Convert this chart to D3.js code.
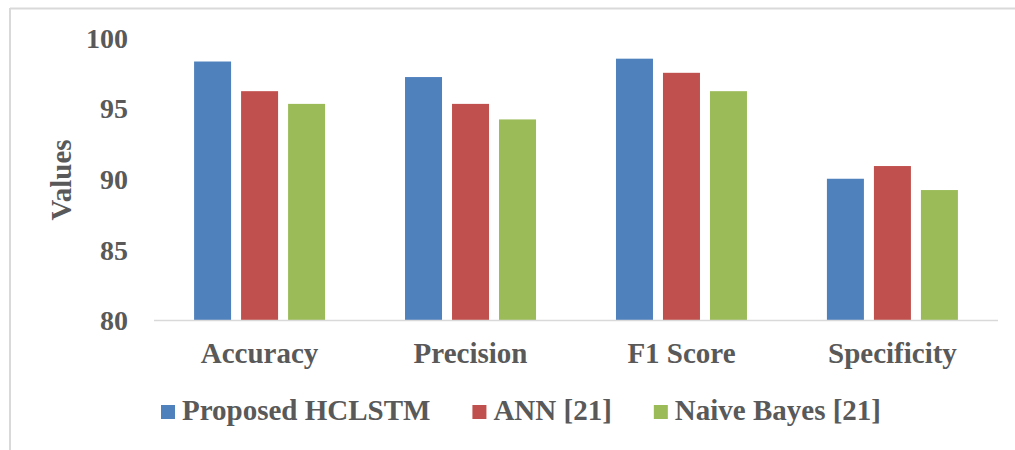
<!DOCTYPE html>
<html>
<head>
<meta charset="utf-8">
<script src="https://cdn.jsdelivr.net/npm/d3@7"></script>
<style>
  html, body { margin: 0; padding: 0; background: #fff; }
  svg { display: block; }
  text { font-family: "Liberation Serif", "Times New Roman", serif; font-weight: bold; fill: #595959; }
</style>
</head>
<body>
<svg id="chart" width="1015" height="450"></svg>
<script>
const categories = ["Accuracy", "Precision", "F1 Score", "Specificity"];
const seriesNames = ["Proposed HCLSTM", "ANN [21]", "Naive Bayes [21]"];
const hclstm = [98.3, 97.2, 98.5, 90.0];
const ann = [96.2, 95.3, 97.5, 90.9];
const naiveBayes = [95.3, 94.2, 96.2, 89.2];
const yTicks = [80, 85, 90, 95, 100];
const colors = ["#4f81bd", "#c0504d", "#9bbb59"];

const seriesValues = [hclstm, ann, naiveBayes];
const svg = d3.select("#chart");

// outer frame (top and left edges visible)
svg.append("line").attr("x1", 10).attr("x2", 1015).attr("y1", 8.5).attr("y2", 8.5)
  .attr("stroke", "#d9d9d9").attr("stroke-width", 2);
svg.append("line").attr("x1", 10).attr("x2", 10).attr("y1", 8).attr("y2", 450)
  .attr("stroke", "#d9d9d9").attr("stroke-width", 2);

const plot = { left: 154, right: 998, top: 37.5, bottom: 320 };

const y = d3.scaleLinear().domain([80, 100]).range([plot.bottom, plot.top]);
const x0 = d3.scaleBand().domain(categories).range([plot.left, plot.right])
  .paddingInner(0.379).paddingOuter(0.19);
const x1 = d3.scaleBand().domain(d3.range(seriesNames.length)).range([0, x0.bandwidth()])
  .paddingInner(0.2128).paddingOuter(0);

// y axis labels
const yAxis = d3.axisLeft(y).tickValues(yTicks).tickSize(0).tickPadding(0);
const gy = svg.append("g").attr("transform", `translate(${plot.left - 26},0)`).call(yAxis);
gy.select(".domain").remove();
gy.selectAll("text").style("font-size", "28px").attr("fill", "#595959")
  .style("font-family", '"Liberation Serif", serif').style("font-weight", "bold")
  .attr("dy", "0.35em");

// bars
const groups = svg.append("g").selectAll("g").data(categories).join("g")
  .attr("transform", d => `translate(${x0(d)},0)`);
groups.selectAll("rect")
  .data((d, i) => seriesValues.map((vals, s) => ({ s, v: vals[i] })))
  .join("rect")
  .attr("x", d => x1(d.s))
  .attr("width", x1.bandwidth())
  .attr("y", d => y(d.v))
  .attr("height", d => y(80) - y(d.v))
  .attr("fill", d => colors[d.s]);

// baseline
svg.append("line").attr("x1", plot.left).attr("x2", plot.right)
  .attr("y1", plot.bottom + 0.5).attr("y2", plot.bottom + 0.5)
  .attr("stroke", "#d9d9d9").attr("stroke-width", 1.5);

// x axis labels
const xAxis = d3.axisBottom(x0).tickSize(0).tickPadding(0);
const gx = svg.append("g").attr("transform", `translate(0,${plot.bottom})`).call(xAxis);
gx.select(".domain").remove();
gx.selectAll("text").style("font-size", "29px").attr("fill", "#595959")
  .style("font-family", '"Liberation Serif", serif').style("font-weight", "bold")
  .attr("y", 43).attr("dy", 0);

// y title
svg.append("text")
  .attr("transform", "translate(71,180) rotate(-90)")
  .attr("text-anchor", "middle")
  .style("font-size", "29px")
  .text("Values");

// legend
const legend = svg.append("g");
let lx = 161;
seriesNames.forEach((name, i) => {
  legend.append("rect").attr("x", lx).attr("y", 405).attr("width", 14).attr("height", 14)
    .attr("fill", colors[i]);
  const t = legend.append("text").attr("x", lx + 21).attr("y", 420)
    .style("font-size", "29px").text(name);
  const w = t.node().getComputedTextLength();
  lx = lx + 21 + w + 42;
});
</script>
</body>
</html>
